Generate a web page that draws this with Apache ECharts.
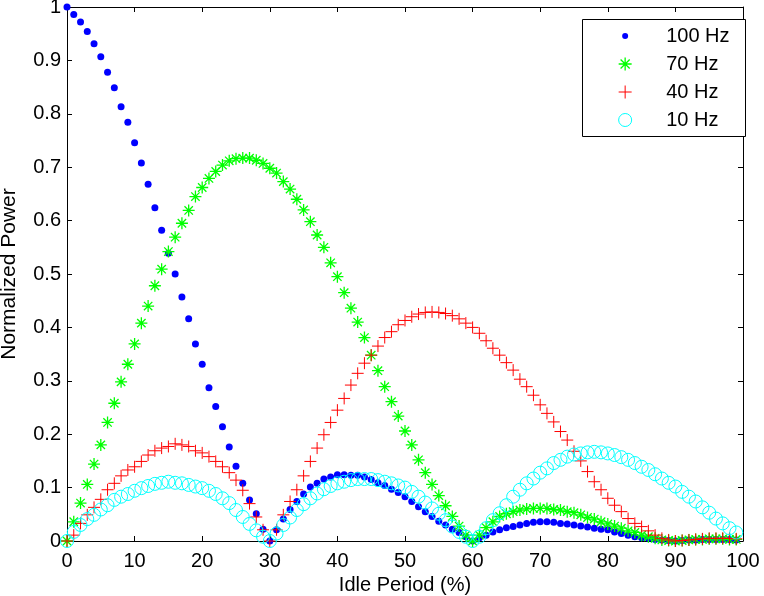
<!DOCTYPE html>
<html>
<head>
<meta charset="utf-8">
<script src="https://cdn.jsdelivr.net/npm/echarts@6/dist/echarts.min.js" type="text/javascript"></script>
<style>
    html, body { margin: 0; padding: 0; background: #fff; }
    #powerChart { width: 764px; height: 596px; }
</style>
</head>
<body>
<div id="powerChart"></div>
<script type="text/javascript">

    // idle period (%) - x values shared by every series
    var idlePeriod = [0,1,2,3,4,5,6,7,8,9,10,11,12,13,14,15,16,17,18,19,
        20,21,22,23,24,25,26,27,28,29,30,31,32,33,34,35,36,37,38,39,
        40,41,42,43,44,45,46,47,48,49,50,51,52,53,54,55,56,57,58,59,
        60,61,62,63,64,65,66,67,68,69,70,71,72,73,74,75,76,77,78,79,
        80,81,82,83,84,85,86,87,88,89,90,91,92,93,94,95,96,97,98,99];

    var seriesNames = ['100 Hz', '70 Hz', '40 Hz', '10 Hz'];

    var power100 = [1.000,0.986,0.972,0.954,0.931,0.907,0.878,0.849,0.813,0.784,
        0.746,0.708,0.668,0.624,0.582,0.539,0.500,0.457,0.416,0.369,
        0.331,0.287,0.252,0.214,0.176,0.140,0.108,0.077,0.051,0.022,
        0.000,0.021,0.041,0.059,0.074,0.088,0.101,0.108,0.116,0.120,
        0.124,0.124,0.123,0.123,0.120,0.115,0.109,0.104,0.097,0.091,
        0.083,0.074,0.064,0.055,0.046,0.037,0.030,0.022,0.016,0.008,
        0.000,0.006,0.011,0.017,0.021,0.025,0.027,0.030,0.033,0.035,
        0.036,0.036,0.035,0.033,0.032,0.030,0.028,0.026,0.024,0.022,
        0.021,0.017,0.014,0.011,0.008,0.006,0.005,0.003,0.002,0.001,
        0.000,0.001,0.002,0.002,0.003,0.003,0.003,0.003,0.003,0.002];

    var power70 = [0.000,0.036,0.071,0.106,0.144,0.180,0.222,0.258,0.298,0.331,
        0.369,0.408,0.440,0.478,0.509,0.542,0.569,0.595,0.619,0.645,
        0.662,0.679,0.692,0.704,0.712,0.716,0.717,0.717,0.713,0.707,
        0.698,0.689,0.673,0.659,0.640,0.620,0.598,0.573,0.550,0.521,
        0.495,0.465,0.436,0.410,0.381,0.348,0.319,0.289,0.261,0.234,
        0.206,0.180,0.152,0.128,0.106,0.085,0.066,0.046,0.028,0.011,
        0.000,0.011,0.025,0.036,0.046,0.051,0.055,0.058,0.060,0.061,
        0.061,0.061,0.059,0.058,0.055,0.053,0.049,0.044,0.041,0.036,
        0.032,0.028,0.024,0.019,0.016,0.011,0.008,0.005,0.002,0.001,
        0.000,0.001,0.002,0.003,0.003,0.004,0.004,0.004,0.003,0.003];

    var power40 = [0.000,0.011,0.033,0.049,0.063,0.078,0.096,0.108,0.122,0.133,
        0.139,0.149,0.161,0.169,0.174,0.177,0.182,0.180,0.177,0.169,
        0.165,0.158,0.149,0.139,0.128,0.114,0.095,0.070,0.045,0.021,
        0.000,0.021,0.049,0.074,0.096,0.122,0.149,0.174,0.199,0.222,
        0.245,0.267,0.292,0.314,0.333,0.348,0.365,0.381,0.392,0.405,
        0.413,0.420,0.425,0.428,0.429,0.428,0.426,0.422,0.416,0.408,
        0.400,0.389,0.375,0.361,0.348,0.334,0.320,0.303,0.289,0.273,
        0.255,0.239,0.223,0.205,0.189,0.168,0.150,0.130,0.111,0.096,
        0.080,0.067,0.055,0.042,0.033,0.027,0.019,0.011,0.005,0.002,
        0.000,0.001,0.002,0.003,0.004,0.005,0.005,0.005,0.005,0.004];

    var power10 = [0.000,0.017,0.030,0.041,0.049,0.059,0.067,0.077,0.083,0.088,
        0.094,0.099,0.103,0.107,0.109,0.111,0.109,0.108,0.105,0.102,
        0.099,0.094,0.088,0.080,0.071,0.058,0.045,0.032,0.020,0.008,
        0.000,0.014,0.030,0.044,0.058,0.069,0.080,0.089,0.097,0.103,
        0.108,0.111,0.114,0.116,0.116,0.116,0.114,0.111,0.108,0.104,
        0.100,0.092,0.083,0.072,0.061,0.051,0.039,0.027,0.017,0.008,
        0.000,0.008,0.024,0.039,0.052,0.067,0.083,0.096,0.108,0.117,
        0.128,0.136,0.146,0.152,0.158,0.162,0.164,0.166,0.167,0.166,
        0.164,0.161,0.157,0.152,0.146,0.139,0.133,0.125,0.117,0.109,
        0.102,0.092,0.083,0.074,0.063,0.053,0.042,0.033,0.024,0.016];

    var xTickLabels = ['0','10','20','30','40','50','60','70','80','90','100'];
    var yTickLabels = ['0','0.1','0.2','0.3','0.4','0.5','0.6','0.7','0.8','0.9','1'];

    // marker shapes (matlab style . * + o)
    var plusPath = 'path://M0,5L10,5M5,0L5,10';
    var starPath = 'path://M0,5L10,5M5,0L5,10M1.5,1.5L8.5,8.5M1.5,8.5L8.5,1.5';
    var dotLegendPath = 'path://M0,0M13,13M3.5,6.5A3,3 0 1,1 9.5,6.5A3,3 0 1,1 3.5,6.5Z';

    var fontName = '"Liberation Sans", Arial, Helvetica, sans-serif';

    function pairUp(ys) {
        var out = [];
        for (var i = 0; i < idlePeriod.length; i++) {
            out.push([idlePeriod[i], ys[i]]);
        }
        return out;
    }

    // plain axis for the box (top / right copies have no labels)
    function boxAxis(pos, isX) {
        return {
            type: 'value',
            position: pos,
            min: 0,
            max: isX ? 100 : 1,
            interval: isX ? 10 : 0.1,
            axisLine: { show: true, onZero: false, lineStyle: { color: '#000', width: 1 } },
            axisTick: { show: true, inside: true, length: 5, lineStyle: { color: '#000', width: 1 } },
            splitLine: { show: false },
            axisLabel: { show: false }
        };
    }

    var xBottom = boxAxis('bottom', true);
    xBottom.axisLabel = {
        show: true, color: '#000', fontSize: 20, fontFamily: fontName, margin: 10,
        formatter: function (v) { return xTickLabels[Math.round(v / 10)]; }
    };
    xBottom.name = 'Idle Period (%)';
    xBottom.nameLocation = 'middle';
    xBottom.nameGap = 27;
    xBottom.nameTextStyle = { color: '#000', fontSize: 20, fontFamily: fontName };

    var yLeft = boxAxis('left', false);
    yLeft.axisLabel = {
        show: true, color: '#000', fontSize: 20, fontFamily: fontName, margin: 6,
        formatter: function (v) { return yTickLabels[Math.round(v * 10)]; }
    };
    yLeft.name = 'Normalized Power';
    yLeft.nameLocation = 'middle';
    yLeft.nameGap = 47;
    yLeft.nameTextStyle = { color: '#000', fontSize: 21, fontFamily: fontName };

    var option = {
        animation: false,
        backgroundColor: '#fff',
        textStyle: { fontFamily: fontName },
        grid: { left: 67, right: 21, top: 7, bottom: 55, containLabel: false, outerBoundsMode: 'none' },
        xAxis: [xBottom, boxAxis('top', true)],
        yAxis: [yLeft, boxAxis('right', false)],
        // legend frame
        graphic: [{
            type: 'rect',
            z: 3,
            shape: { x: 582.5, y: 19.5, width: 163, height: 117 },
            style: { fill: '#fff', stroke: '#000', lineWidth: 1 }
        }],
        legend: {
            z: 4,
            orient: 'vertical',
            left: 618,
            top: 26,
            padding: 0,
            itemWidth: 72,
            itemHeight: 13,
            itemGap: 8,
            textStyle: { color: '#000', fontSize: 20, fontFamily: fontName },
            data: [
                { name: seriesNames[0], icon: dotLegendPath, itemStyle: { color: '#0000ff', borderWidth: 0 } },
                { name: seriesNames[1], icon: starPath, itemStyle: { color: 'rgba(0,0,0,0)', borderColor: '#00ff00', borderWidth: 1.3 } },
                { name: seriesNames[2], icon: plusPath, itemStyle: { color: 'rgba(0,0,0,0)', borderColor: '#ff0000', borderWidth: 1 } },
                { name: seriesNames[3], icon: 'circle', itemStyle: { color: 'rgba(0,0,0,0)', borderColor: '#00ffff', borderWidth: 1 } }
            ]
        },
        series: [
            {
                name: seriesNames[0], type: 'scatter', clip: false,
                symbol: 'circle', symbolSize: 7,
                itemStyle: { color: '#0000ff', opacity: 1 },
                data: pairUp(power100)
            },
            {
                name: seriesNames[1], type: 'scatter', clip: false,
                symbol: starPath, symbolSize: 12,
                itemStyle: { color: 'rgba(0,0,0,0)', borderColor: '#00ff00', borderWidth: 1.3, opacity: 1 },
                data: pairUp(power70)
            },
            {
                name: seriesNames[2], type: 'scatter', clip: false,
                symbol: plusPath, symbolSize: 12,
                itemStyle: { color: 'rgba(0,0,0,0)', borderColor: '#ff0000', borderWidth: 1, opacity: 1 },
                data: pairUp(power40)
            },
            {
                name: seriesNames[3], type: 'scatter', clip: false,
                symbol: 'circle', symbolSize: 13,
                itemStyle: { color: 'rgba(0,0,0,0)', borderColor: '#00ffff', borderWidth: 1, opacity: 1 },
                data: pairUp(power10)
            }
        ]
    };

    var myPowerChart = echarts.init(document.getElementById('powerChart'));
    myPowerChart.setOption(option);

</script>
</body>
</html>
